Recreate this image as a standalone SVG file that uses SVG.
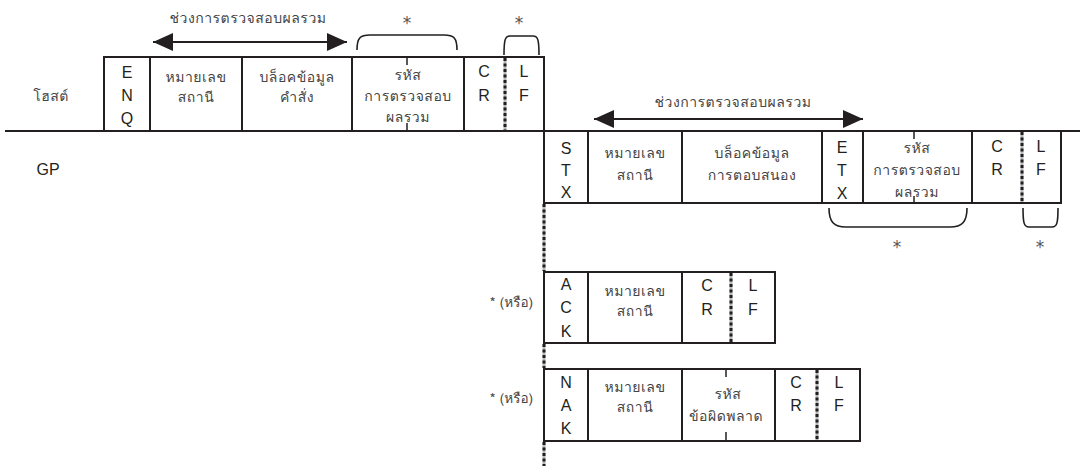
<svg xmlns="http://www.w3.org/2000/svg" width="1086" height="466" viewBox="0 0 1086 466">
  <style>
    .box { fill: none; stroke: #231f20; stroke-width: 2; }
    .line { stroke: #231f20; stroke-width: 2; fill: none; }
    .tick { stroke: #231f20; stroke-width: 1.5; }
    .brace { fill: none; stroke: #231f20; stroke-width: 1.6; }
    .sepbase { stroke: #b4b8bc; stroke-width: 3; }
    .sepdash { stroke: #231f20; stroke-width: 3; stroke-dasharray: 3 2.5; }
    .th { font-family: 'Loma', 'Garuda', 'Norasi', 'Noto Sans Thai Looped', 'Noto Sans Thai', 'Noto Sans', 'DejaVu Sans', sans-serif; font-size: 14px; letter-spacing: 0.5px; fill: #444; text-anchor: middle; }
    .lat { font-family: 'Liberation Sans', Arial, sans-serif; font-size: 16px; fill: #231f20; text-anchor: middle; }
    .star { font-family: 'DejaVu Sans', sans-serif; font-size: 17px; fill: #555; text-anchor: middle; }
    .side { font-family: 'Loma', 'Garuda', 'Norasi', 'Noto Sans Thai Looped', 'Noto Sans Thai', 'Noto Sans', 'DejaVu Sans', sans-serif; font-size: 13.5px; fill: #444; text-anchor: end; }
  </style>
  <defs>
    <marker id="head" viewBox="0 0 20 18" refX="20" refY="9" markerWidth="20" markerHeight="18" markerUnits="userSpaceOnUse" orient="auto-start-reverse">
      <path d="M0,0 L20,9 L0,18 Z" fill="#231f20"/>
    </marker>
  </defs>

  <rect width="1086" height="466" fill="#ffffff"/>

  <!-- station labels -->
  <g id="label-host">
    <text class="th" x="51" y="101">โฮสต์</text>
  </g>
  <g id="label-gp">
    <text class="lat" x="48" y="175" font-size="17">GP</text>
  </g>

  <!-- connectors: timeline, range arrows, braces, dotted continuation -->
  <g id="connectors">
    <line class="line" x1="5" y1="131" x2="1080" y2="131"/>
    <line class="line" x1="544" y1="57" x2="544" y2="131"/>

    <line class="line" x1="153" y1="42" x2="347" y2="42" marker-start="url(#head)" marker-end="url(#head)"/>
    <text class="th" x="248" y="23">ช่วงการตรวจสอบผลรวม</text>

    <line class="line" x1="594" y1="119" x2="863" y2="119" marker-start="url(#head)" marker-end="url(#head)"/>
    <text class="th" x="733" y="107">ช่วงการตรวจสอบผลรวม</text>

    <path class="brace" d="M357,50 C357,38 360,35 370,35 L444,35 C454,35 457,38 457,50"/>
    <path class="brace" d="M504,55 C504,40 505,36 510,36 L533,36 C538,36 539,40 539,55"/>
    <text class="star" x="407" y="29">*</text>
    <text class="star" x="519" y="29">*</text>

    <path class="brace" d="M829,208 C829,222 834,227 846,227 L950,227 C962,227 967,222 967,208"/>
    <path class="brace" d="M1023,208 C1023,223 1024,227 1029,227 L1052,227 C1057,227 1058,223 1058,208"/>
    <text class="star" x="897" y="253">*</text>
    <text class="star" x="1040" y="253">*</text>

    <line class="sepbase" x1="544" y1="204" x2="544" y2="271"/>
    <line class="sepdash" x1="544" y1="204" x2="544" y2="271"/>
    <line class="sepbase" x1="544" y1="344" x2="544" y2="368"/>
    <line class="sepdash" x1="544" y1="344" x2="544" y2="368"/>
    <line class="sepbase" x1="544" y1="442" x2="544" y2="466"/>
    <line class="sepdash" x1="544" y1="442" x2="544" y2="466"/>
  </g>

  <!-- host request frame -->
  <g id="frame-host">
    <rect class="box" x="104" y="57" width="440" height="74"/>
    <line class="line" x1="150" y1="57" x2="150" y2="131"/>
    <line class="line" x1="242" y1="57" x2="242" y2="131"/>
    <line class="line" x1="352" y1="57" x2="352" y2="131"/>
    <line class="line" x1="464" y1="57" x2="464" y2="131"/>
    <line class="sepbase" x1="505" y1="58" x2="505" y2="130"/>
    <line class="sepdash" x1="505" y1="58" x2="505" y2="130"/>
    <line class="tick" x1="407" y1="57" x2="407" y2="65"/>
    <line class="tick" x1="407" y1="123" x2="407" y2="131"/>
    <text class="lat" x="127" y="78">E</text>
    <text class="lat" x="127" y="101">N</text>
    <text class="lat" x="127" y="124">Q</text>
    <text class="th" x="196" y="82">หมายเลข</text>
    <text class="th" x="196" y="102">สถานี</text>
    <text class="th" x="297" y="82">บล็อคข้อมูล</text>
    <text class="th" x="297" y="102">คำสั่ง</text>
    <text class="th" x="408" y="80">รหัส</text>
    <text class="th" x="408" y="101">การตรวจสอบ</text>
    <text class="th" x="408" y="122">ผลรวม</text>
    <text class="lat" x="484" y="77">C</text>
    <text class="lat" x="484" y="101">R</text>
    <text class="lat" x="524" y="77">L</text>
    <text class="lat" x="524" y="101">F</text>
  </g>

  <!-- GP response frame -->
  <g id="frame-gp">
    <rect class="box" x="544" y="131" width="517" height="72"/>
    <line class="line" x1="588" y1="131" x2="588" y2="203"/>
    <line class="line" x1="682" y1="131" x2="682" y2="203"/>
    <line class="line" x1="822" y1="131" x2="822" y2="203"/>
    <line class="line" x1="863" y1="131" x2="863" y2="203"/>
    <line class="line" x1="972" y1="131" x2="972" y2="203"/>
    <line class="sepbase" x1="1022" y1="132" x2="1022" y2="202"/>
    <line class="sepdash" x1="1022" y1="132" x2="1022" y2="202"/>
    <line class="tick" x1="914" y1="131" x2="914" y2="139"/>
    <line class="tick" x1="914" y1="196" x2="914" y2="203"/>
    <text class="lat" x="566" y="154">S</text>
    <text class="lat" x="566" y="176">T</text>
    <text class="lat" x="566" y="198">X</text>
    <text class="th" x="635" y="158">หมายเลข</text>
    <text class="th" x="635" y="180">สถานี</text>
    <text class="th" x="752" y="158">บล็อคข้อมูล</text>
    <text class="th" x="752" y="180">การตอบสนอง</text>
    <text class="lat" x="842" y="153">E</text>
    <text class="lat" x="842" y="176">T</text>
    <text class="lat" x="842" y="199">X</text>
    <text class="th" x="917" y="153">รหัส</text>
    <text class="th" x="917" y="175">การตรวจสอบ</text>
    <text class="th" x="917" y="197">ผลรวม</text>
    <text class="lat" x="997" y="152">C</text>
    <text class="lat" x="997" y="175">R</text>
    <text class="lat" x="1041" y="152">L</text>
    <text class="lat" x="1041" y="175">F</text>
  </g>

  <!-- ACK reply -->
  <g id="frame-ack">
    <text class="side" x="533" y="307">* (หรือ)</text>
    <rect class="box" x="544" y="272" width="231" height="71"/>
    <line class="line" x1="588" y1="272" x2="588" y2="343"/>
    <line class="line" x1="682" y1="272" x2="682" y2="343"/>
    <line class="sepbase" x1="731" y1="273" x2="731" y2="342"/>
    <line class="sepdash" x1="731" y1="273" x2="731" y2="342"/>
    <text class="lat" x="566" y="290">A</text>
    <text class="lat" x="566" y="313">C</text>
    <text class="lat" x="566" y="337">K</text>
    <text class="th" x="635" y="296">หมายเลข</text>
    <text class="th" x="635" y="316">สถานี</text>
    <text class="lat" x="707" y="291">C</text>
    <text class="lat" x="707" y="315">R</text>
    <text class="lat" x="753" y="291">L</text>
    <text class="lat" x="753" y="315">F</text>
  </g>

  <!-- NAK reply -->
  <g id="frame-nak">
    <text class="side" x="533" y="403">* (หรือ)</text>
    <rect class="box" x="544" y="369" width="316" height="72"/>
    <line class="line" x1="588" y1="369" x2="588" y2="441"/>
    <line class="line" x1="682" y1="369" x2="682" y2="441"/>
    <line class="line" x1="775" y1="369" x2="775" y2="441"/>
    <line class="sepbase" x1="817" y1="370" x2="817" y2="440"/>
    <line class="sepdash" x1="817" y1="370" x2="817" y2="440"/>
    <line class="tick" x1="726" y1="369" x2="726" y2="377"/>
    <line class="tick" x1="726" y1="432" x2="726" y2="441"/>
    <text class="lat" x="566" y="388">N</text>
    <text class="lat" x="566" y="411">A</text>
    <text class="lat" x="566" y="434">K</text>
    <text class="th" x="635" y="392">หมายเลข</text>
    <text class="th" x="635" y="412">สถานี</text>
    <text class="th" x="728" y="399">รหัส</text>
    <text class="th" x="726" y="421">ข้อผิดพลาด</text>
    <text class="lat" x="796" y="388">C</text>
    <text class="lat" x="796" y="411">R</text>
    <text class="lat" x="839" y="388">L</text>
    <text class="lat" x="839" y="411">F</text>
  </g>
</svg>
